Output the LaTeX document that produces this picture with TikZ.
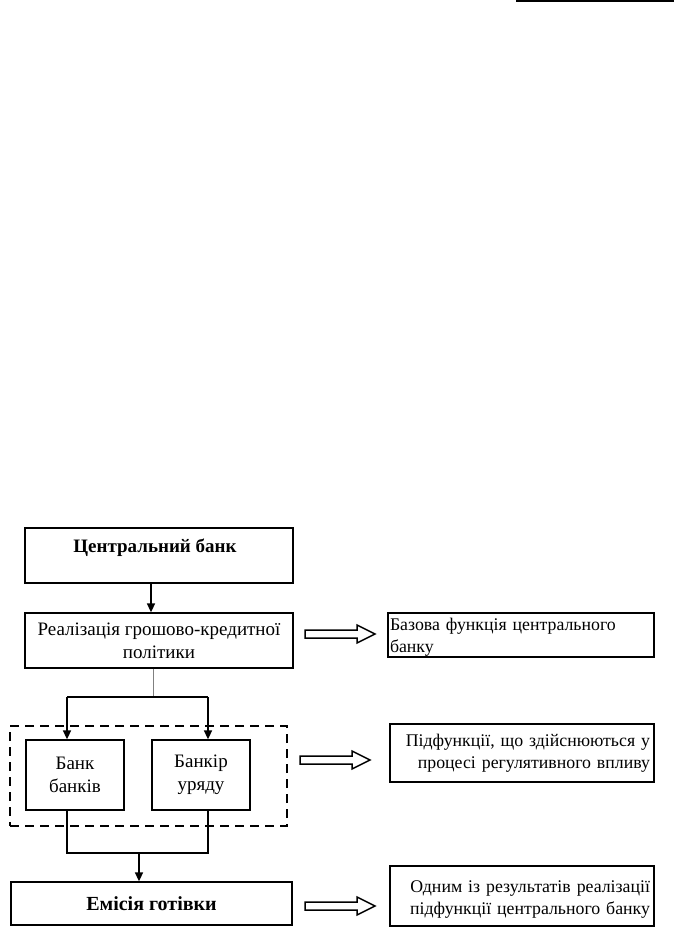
\documentclass[tikz,border=0pt]{standalone}
\usepackage{fontspec}
\setmainfont{Liberation Serif}
\usetikzlibrary{arrows.meta}
\tikzset{
  box/.style={draw, line width=1.3pt, inner sep=0pt, align=center, font=\fontsize{19}{23}\selectfont},
  rbox/.style={draw, line width=1.3pt, inner sep=0pt},
  rtext/.style={inner sep=0pt, font=\fontsize{17.8}{22}\selectfont},
  conn/.style={line width=1.6pt},
  arr/.style={conn, -{Triangle[length=9pt,width=8pt]}},
  barrow/.style={line width=1.5pt, fill=white},
  dashbox/.style={line width=2.2pt, dash pattern=on 9pt off 6pt}
}
\begin{document}
\begin{tikzpicture}[x=1pt,y=-1pt]
\useasboundingbox (0,0) rectangle (674,939);
\fill[white] (0,0) rectangle (674,939);
% line at top right
\coordinate (tl) at (516,1);
\coordinate (tr) at (674,1);
\draw[line width=1.5pt] (tl) -- (tr);

% left column
\node[box, minimum width=268pt, minimum height=55pt] (cb) at (159,555.5) {};
\node[font=\fontsize{19}{23}\selectfont\bfseries] (cbt) at (155,548) {Центральний банк};
\node[box, minimum width=268pt, minimum height=55pt] (rp) at (159,640.5) {Реалізація грошово-кредитної\\політики};
\draw[arr] (cb.south -| 151,0) -- (rp.north -| 151,0);

\node[box, minimum width=98pt, minimum height=70pt] (bb) at (75,775) {Банк\\банків};
\node[box, minimum width=98pt, minimum height=70pt] (bu) at (201,775) {Банкір\\уряду};
\node[draw, dashbox, minimum width=277pt, minimum height=100pt, inner sep=0pt] (dg) at (148.5,776) {};

\coordinate (split) at (153,697);
\draw[line width=0.6pt, gray] (rp.south -| split) -- (split);
\draw[conn] (67,697) -- (208,697);
\draw[arr] (67,697) -- (bb.north -| 67,0);
\draw[arr] (208,697) -- (bu.north -| 208,0);

\node[box, minimum width=281pt, minimum height=43pt, font=\fontsize{20}{23}\selectfont\bfseries] (em) at (151.5,903.5) {Емісія готівки};
\coordinate (join) at (139,853);
\draw[conn] (bb.south -| 67,0) -- (67,853) -- (208,853) -- (bu.south -| 208,0);
\draw[arr] (join) -- (em.north -| join);

% right column
\node[rbox, minimum width=266pt, minimum height=44pt] (r1) at (521,635) {};
\node[rtext, text width=262pt, align=left] (r1t) at (521,637) {Базова функція центрального\\банку};
\node[rbox, minimum width=264pt, minimum height=58pt] (r2) at (522,753) {};
\node[rtext, text width=256pt, align=right] (r2t) at (522,753) {Підфункції, що здійснюються у\\процесі регулятивного впливу};
\node[rbox, minimum width=264pt, minimum height=60pt] (r3) at (522,896) {};
\node[rtext, text width=256pt, align=right] (r3t) at (522,900) {Одним із результатів реалізації\\підфункції центрального банку};

% block arrows
\coordinate (a1) at (305,634);
\coordinate (a2) at (300,760);
\coordinate (a3) at (305,906);
\foreach \c in {a1,a2,a3}{
  \draw[barrow] (\c) ++(0,-4) -- ++(52,0) -- ++(0,-5) -- ++(18,9) -- ++(-18,9) -- ++(0,-5) -- ++(-52,0) -- cycle;
}
\end{tikzpicture}
\end{document}
